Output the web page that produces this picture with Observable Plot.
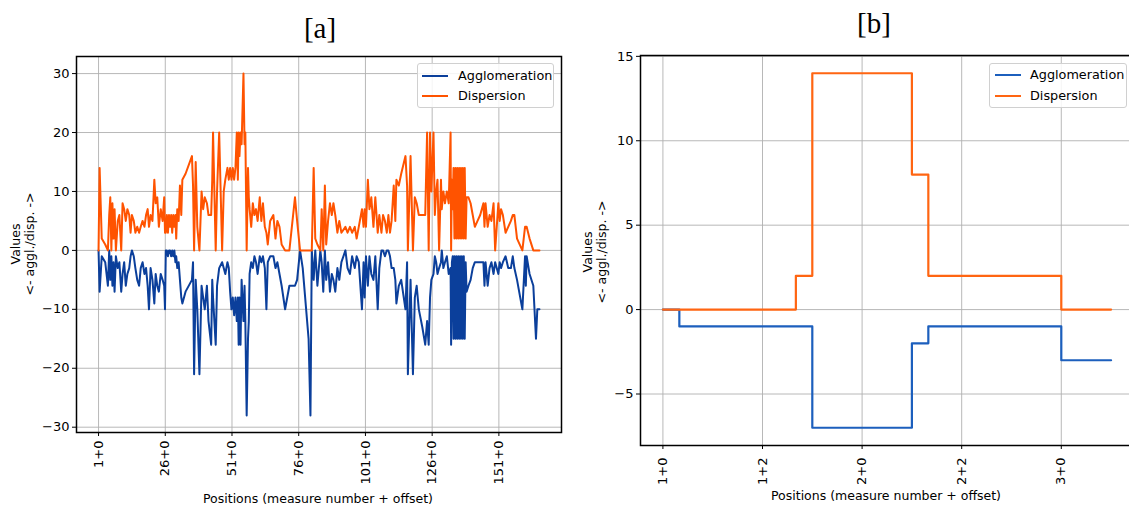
<!DOCTYPE html>
<html><head><meta charset="utf-8">
<script src="https://cdn.jsdelivr.net/npm/d3@7"></script>
<script src="https://cdn.jsdelivr.net/npm/@observablehq/plot@0.6"></script>
<style>
html,body{margin:0;padding:0;background:#fff;overflow:hidden;width:1129px;height:509px;}
#root{position:relative;width:1129px;height:509px;overflow:hidden;font-family:"DejaVu Sans",sans-serif;color:#000;}
.abs{position:absolute;white-space:nowrap;}
.title{font-family:"Liberation Serif","DejaVu Serif",serif;font-size:29px;transform:translate(-50%,-50%);line-height:1;}
.ylab{font-size:12.5px;transform:translate(-50%,-50%) rotate(-90deg);text-align:center;line-height:14px;}
.xlab{font-size:12.5px;transform:translate(-50%,-50%);line-height:1;}
.legend{border:1px solid #d0d0d0;border-radius:3px;background:rgba(255,255,255,0.85);box-sizing:border-box;}
.sw{position:absolute;height:0;border-top:2px solid;}
.lt{position:absolute;font-size:12.8px;transform:translateY(-50%);line-height:1;white-space:nowrap;}
.panel{position:absolute;top:0;}
</style></head>
<body><div id="root"></div>
<script>
// ---------- Panel [a] data: position (measures after measure 1), dispersion, agglomeration
const posA = [
0,0.4,1.2,2.5,3.5,4.0,4.4,4.8,5.2,5.6,6.0,6.5,7.2,7.8,8.5,9.0,9.6,10.2,10.8,11.5,12.0,12.5,13.2,13.8,14.5,15.2,15.8,16.5,17.2,17.8,18.4,18.9,19.5,20.2,20.9,21.4,22.0,22.6,23.3,24.0,24.6,24.9,
25.2,25.6,26.0,26.4,26.8,27.2,27.6,28.0,28.4,28.8,29.1,29.5,30.0,30.5,31.0,31.4,32.6,35.0,35.4,35.8,36.4,37.0,37.8,38.6,39.2,39.8,40.6,41.2,42.2,42.6,42.9,43.9,44.4,45.2,46.3,46.9,47.5,48.3,48.8,49.3,49.8,
50.3,50.8,51.3,51.8,52.2,52.5,52.8,53.2,53.6,54.3,54.7,55.0,55.5,56.0,56.3,56.6,57.2,57.8,58.4,59.0,59.6,60.4,61.0,61.6,62.3,62.9,63.4,64.3,65.5,66.3,67.0,67.8,68.6,69.9,71.5,73.6,74.4,75.5,
76.5,78.7,79.4,79.9,80.6,81.2,82.0,83.1,83.6,84.2,84.8,85.3,86.0,86.7,87.4,88.0,88.7,89.5,90.2,91.0,92.5,93.3,94.2,95.0,96.0,96.7,97.5,98.7,99.3,99.7,
100.2,100.9,101.5,102.2,103.0,103.7,104.6,105.2,106.0,106.6,107.3,108.0,108.6,109.2,109.8,110.6,111.2,111.6,112.5,113.4,115.0,115.6,115.9,116.9,117.8,118.5,119.2,120.0,121.3,122.4,123.1,123.7,124.2,124.7,
125.5,126.0,126.5,127.0,127.6,128.3,128.6,129.2,129.8,130.5,131.2,131.9,132.1,132.4,132.7,133.0,133.35,133.7,134.05,134.4,134.75,135.1,135.45,135.8,136.15,136.5,136.85,137.2,137.55,137.9,138.6,139.4,140.2,141.0,142.0,143.0,144.2,144.6,145.0,145.8,146.5,147.2,148.0,148.6,149.8,
150.3,150.8,151.5,152.5,153.5,154.5,155.2,155.8,156.8,158.8,159.8,160.1,160.4,161.5,162.9,163.9,164.4,165.2
];
const dispersionA = [
0,14,2,1,0,6,9,0,8,2,7,0,5,6,0,8,7,5,7,6,3,6,5,3,4,3,4,5,4,6,7,4,6,5,12,8,9,4,7,5,9,3,
3,6,3,6,4,6,3,6,4,6,2,7,5,11,6,12,13,16,11,0,15,4,0,10,7,9,8,6,6,12,20,0,10,20,0,10,12,14,12,14,12,
14,12,14,20,12,20,16,20,18,30,18,20,0,14,9,7,4,8,6,7,5,9,5,8,4,3,1,5,6,2,5,4,1,0,0,9,5,0,
0,0,0,0,14,2,1,0,7,0,11,1,5,8,6,8,6,3,5,3,4,3,4,3,4,2,4,7,4,7,
4,12,7,9,4,9,3,6,3,6,5,3,6,3,5,11,5,12,11,13,16,11,0,16,0,9,8,6,6,6,20,0,20,10,
20,6,10,12,0,12,7,10,8,10,8,20,0,12,7,14,2,14,2,14,2,14,2,14,2,14,2,14,2,9,9,8,6,4,5,6,8,4,8,4,6,5,8,0,8,
5,7,6,3,4,5,6,6,2,0,4,4,4,2,0,0,0,0
];
const agglomerationA = [
0,-7,-1,-2,-6,0,-5,-1,-6,-2,-7,-1,-3,-2,-7,-4,-2,-6,-4,-3,-1,0,-1,-3,-5,-6,-3,-2,-4,-3,-6,-10,-3,-5,-9,-4,-6,-7,-4,-5,-6,-10,
0,0,-1,0,0,-1,0,-1,0,-2,-1,-3,-2,-5,-8,-9,-7,-5,-2,-21,-5,-10,-21,-6,-8,-10,-6,-12,-16,-5,-8,-16,-6,-3,-2,-3,-4,-2,-3,-7,-10,
-8,-11,-8,-12,-8,-16,-8,-16,-5,-12,-6,-12,-28,-15,-12,-4,-2,-3,-1,-2,-4,-1,-2,-1,-3,-10,-2,-1,-1,-3,-2,-4,-6,-10,-6,-6,-5,0,
-3,-15,-28,0,-5,0,-6,0,-2,-7,0,-5,-2,-7,-4,-5,-7,-3,-5,-2,0,-3,-4,-1,-3,-1,-2,-10,-2,-8,
-1,-6,-1,-4,-5,-1,-10,-3,0,0,-1,0,0,-1,-3,-3,-5,-9,-6,-5,-10,-2,-21,-5,-21,-8,-6,-10,-13,-16,-12,-16,-8,-5,
-4,-1,-2,-4,-3,-2,0,-3,-2,-1,-4,-3,-16,-2,-1,-15,-1,-15,-1,-15,-1,-15,-1,-15,-1,-15,-1,-15,-2,-7,-6,-5,-3,-2,-2,-2,-2,-6,-2,-6,-3,-2,-4,-2,-4,
-2,-3,-2,-1,-3,-3,-1,-3,-5,-10,-1,-6,-1,-4,-6,-15,-10,-10
];
const xTicksA = [0, 25, 50, 75, 100, 125, 150];
const xTickLabelsA = ["1+0", "26+0", "51+0", "76+0", "101+0", "126+0", "151+0"];
const yTicksA = [-30, -20, -10, 0, 10, 20, 30];
const yTickLabelsA = ["−30", "−20", "−10", "0", "10", "20", "30"];

// ---------- Panel [b] data
const posB = [0, 0.33, 2.67, 3, 5, 5.33, 8, 9];
const dispersionB = [0, 0, 2, 14, 8, 2, 0, 0];
const agglomerationB = [0, -1, -1, -7, -2, -1, -3, -3];
const xTicksB = [0, 2, 4, 6, 8];
const xTickLabelsB = ["1+0", "1+2", "2+0", "2+2", "3+0"];
const yTicksB = [-5, 0, 5, 10, 15];
const yTickLabelsB = ["−5", "0", "5", "10", "15"];

const seriesNames = ["Agglomeration", "Dispersion"];
const colorsA = ["#0b3f9b", "#ff5300"];
const colorsB = ["#1c5fbd", "#ff6512"];

const root = document.getElementById("root");
const gridStyle = {stroke: "#b0b0b0", strokeOpacity: 1, strokeWidth: 0.9};
const svgStyle = {background: "transparent", overflow: "visible", fontFamily: "DejaVu Sans, sans-serif", fontSize: "13px", color: "black", maxWidth: "none"};

const dataA = posA.map((x, i) => ({x, d: dispersionA[i], a: agglomerationA[i]}));
const plotA = Plot.plot({
  width: 600, height: 509,
  marginLeft: 76, marginRight: 39, marginTop: 56, marginBottom: 77,
  style: svgStyle,
  x: {domain: [-8.26, 173.46]},
  y: {domain: [-30.9, 32.9]},
  marks: [
    Plot.gridX(xTicksA, gridStyle),
    Plot.gridY(yTicksA, gridStyle),
    Plot.line(dataA, {x: "x", y: "a", stroke: colorsA[0], strokeWidth: 2}),
    Plot.line(dataA, {x: "x", y: "d", stroke: colorsA[1], strokeWidth: 2}),
    Plot.frame({stroke: "black", strokeWidth: 1.5}),
    Plot.axisX(xTicksA, {tickFormat: d => xTickLabelsA[xTicksA.indexOf(d)], tickRotate: -90, tickSize: 4, tickPadding: 4, label: null, fontSize: 13}),
    Plot.axisY(yTicksA, {tickFormat: d => yTickLabelsA[yTicksA.indexOf(d)], tickSize: 4, tickPadding: 3, label: null, fontSize: 13})
  ]
});
plotA.classList.add("panel");
plotA.style.left = "0px";
root.appendChild(plotA);

const dataB = posB.map((x, i) => ({x, d: dispersionB[i], a: agglomerationB[i]}));
const plotB = Plot.plot({
  width: 583, height: 509,
  marginLeft: 80, marginRight: 10, marginTop: 55, marginBottom: 64,
  style: svgStyle,
  x: {domain: [-0.45, 9.45]},
  y: {domain: [-8.05, 15.05]},
  marks: [
    Plot.gridX(xTicksB, gridStyle),
    Plot.gridY(yTicksB, gridStyle),
    Plot.line(dataB, {x: "x", y: "a", stroke: colorsB[0], strokeWidth: 2.2, curve: "step-after"}),
    Plot.line(dataB, {x: "x", y: "d", stroke: colorsB[1], strokeWidth: 2.2, curve: "step-after"}),
    Plot.frame({stroke: "black", strokeWidth: 1.5}),
    Plot.axisX(xTicksB, {tickFormat: d => xTickLabelsB[xTicksB.indexOf(d)], tickRotate: -90, tickSize: 4, tickPadding: 8, label: null, fontSize: 13}),
    Plot.axisY(yTicksB, {tickFormat: d => yTickLabelsB[yTicksB.indexOf(d)], tickSize: 4, tickPadding: 3, label: null, fontSize: 13})
  ]
});
plotB.classList.add("panel");
plotB.style.left = "560px";
root.appendChild(plotB);

function addText(cls, text, x, y) {
  const el = document.createElement("div");
  el.className = "abs " + cls;
  el.style.left = x + "px";
  el.style.top = y + "px";
  el.innerHTML = text;
  root.appendChild(el);
  return el;
}
addText("title", "[a]", 320, 28);
addText("title", "[b]", 874, 23);
addText("ylab", "Values<br>&lt;- aggl./disp. -&gt;", 23, 244);
addText("ylab", "Values<br>&lt;- aggl./disp. -&gt;", 595, 252);
addText("xlab", "Positions (measure number + offset)", 318, 499);
addText("xlab", "Positions (measure number + offset)", 886, 496);

function addLegend(left, top, w, h, colors, swX, txtX, rows) {
  const box = document.createElement("div");
  box.className = "abs legend";
  Object.assign(box.style, {left: left + "px", top: top + "px", width: w + "px", height: h + "px"});
  root.appendChild(box);
  seriesNames.forEach((name, i) => {
    const sw = document.createElement("div");
    sw.className = "sw";
    Object.assign(sw.style, {left: (swX - left) + "px", top: (rows[i] - top - 1) + "px", width: "26px", borderTopColor: colors[i]});
    box.appendChild(sw);
    const t = document.createElement("div");
    t.className = "lt";
    Object.assign(t.style, {left: (txtX - left) + "px", top: (rows[i] - top) + "px"});
    t.textContent = name;
    box.appendChild(t);
  });
}
addLegend(417, 63, 137, 45, colorsA, 421, 457, [75, 95]);
addLegend(989, 63, 138, 45, colorsB, 994, 1029, [74, 95]);
</script>
</body></html>
